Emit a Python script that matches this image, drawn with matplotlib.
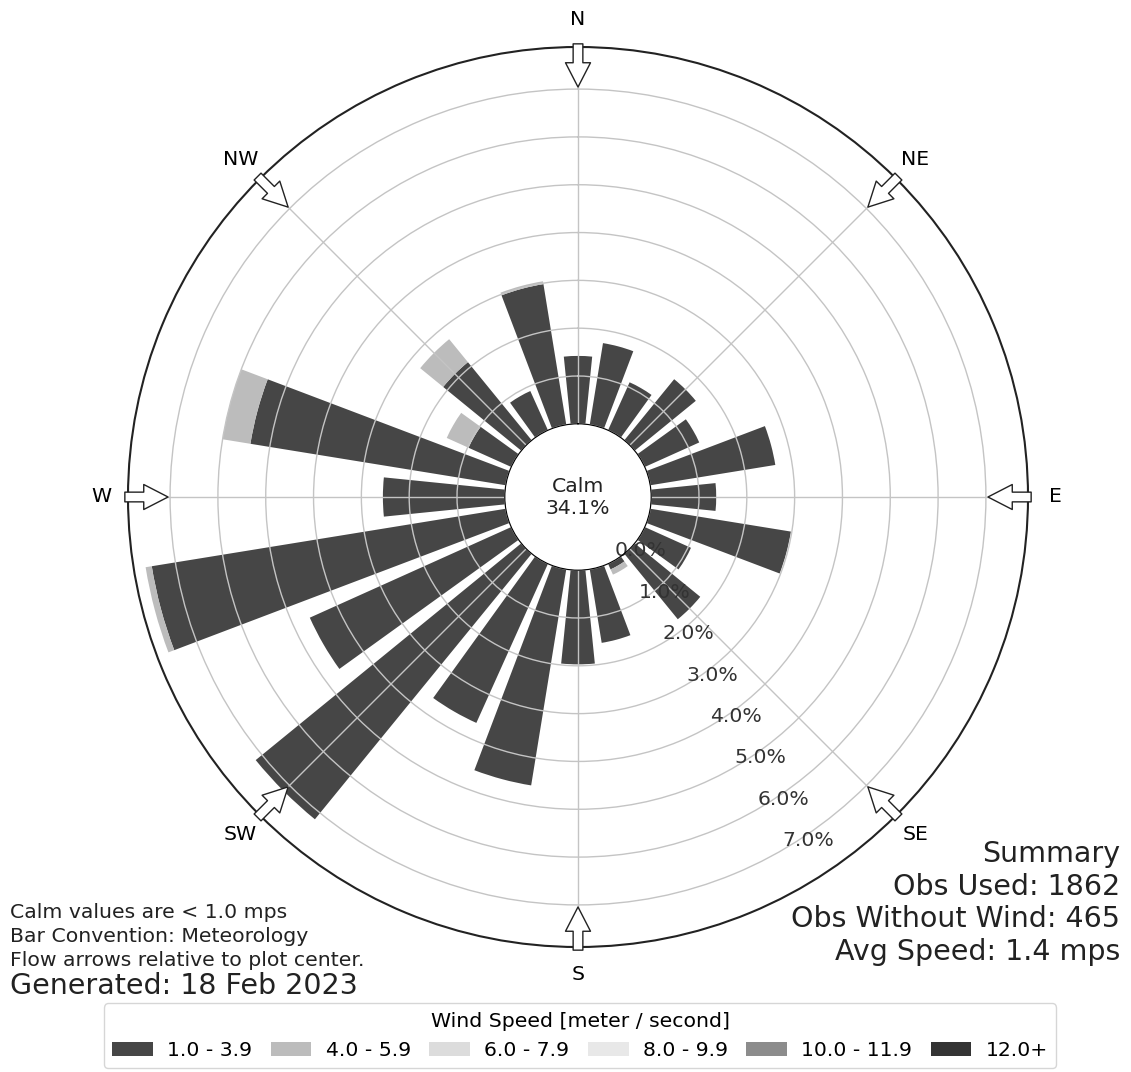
import numpy as np
import matplotlib
matplotlib.use("Agg")
import matplotlib.pyplot as plt

# Wind direction sectors (degrees, meteorological convention) and
# frequency (%) of observations per speed class.
directions = [0, 15, 30, 45, 60, 75, 90, 105, 120, 135, 150, 165,
              180, 195, 210, 225, 240, 255, 270, 285, 300, 315, 330, 345]
speed_labels = ["1.0 - 3.9", "4.0 - 5.9", "6.0 - 7.9", "8.0 - 9.9",
                "10.0 - 11.9", "12.0+"]
freq_1_4 = [1.42, 1.73, 1.10, 1.65, 1.25, 2.65, 1.36, 2.98, 1.06, 1.77, 0.13, 1.56,
            1.97, 4.58, 3.65, 7.17, 4.62, 7.50, 2.55, 5.41, 0.98, 2.11, 0.90, 2.98]
freq_4_6 = [0, 0, 0, 0, 0, 0, 0, 0, 0, 0, 0.12, 0,
            0, 0, 0, 0, 0, 0.13, 0, 0.59, 0.50, 0.62, 0, 0.06]
freq_6_8 = [0] * 24
freq_8_10 = [0] * 24
freq_10_12 = [0] * 24
freq_12_up = [0] * 24
speed_colors = ["#464646", "#bcbcbc", "#dcdcdc", "#e8e8e8", "#8c8c8c", "#343434"]

calm_pct = 34.1
ring_ticks = [0, 1, 2, 3, 4, 5, 6, 7]
compass_angles = [0, 45, 90, 135, 180, 225, 270, 315]
compass_labels = ["N", "NE", "E", "SE", "S", "SW", "W", "NW"]

rmax = 7.88
rorigin = -1.53
base_fs = 14.7
big_fs = 20.5

fig = plt.figure(figsize=(11.31, 10.72), dpi=100)
fig.patch.set_facecolor("white")
ax = fig.add_axes([128 / 1131, 125 / 1072, 900 / 1131, 900 / 1072], projection="polar")
ax.set_theta_zero_location("N")
ax.set_theta_direction(-1)
ax.set_rorigin(rorigin)
ax.set_ylim(0, rmax)

theta = np.deg2rad(directions)
width = np.deg2rad(15) * 0.77
bottom = np.zeros(len(directions))
series = [freq_1_4, freq_4_6, freq_6_8, freq_8_10, freq_10_12, freq_12_up]
handles = []
for vals, col, lab in zip(series, speed_colors, speed_labels):
    vals = np.asarray(vals, dtype=float)
    bc = ax.bar(theta, vals, width=width, bottom=bottom, color=col,
                linewidth=0, align="center", label=lab, zorder=1)
    handles.append(bc)
    bottom = bottom + vals

# grid and axes styling
ax.set_yticks(ring_ticks)
ax.set_yticklabels([f"{t:.1f}%" for t in ring_ticks], fontsize=base_fs, color="#333333")
ax.set_rlabel_position(150)
ax.set_thetagrids(compass_angles, compass_labels, fontsize=base_fs)
ax.tick_params(axis="x", pad=9)
ax.grid(True, color="#c4c4c4", linewidth=1.0)
ax.spines["polar"].set_color("#222222")
ax.spines["polar"].set_linewidth(1.5)
if "inner" in ax.spines:
    ax.spines["inner"].set_visible(False)

# flow arrows pointing toward the plot centre
span = rmax - rorigin
r_tail = rorigin + 1.007 * span
r_tip = rorigin + 0.911 * span
for ang in compass_angles:
    t = np.deg2rad(ang)
    ax.annotate("", xy=(t, r_tip), xytext=(t, r_tail),
                xycoords="data", textcoords="data", annotation_clip=False,
                arrowprops=dict(arrowstyle="simple,head_length=1.75,head_width=1.8,tail_width=0.7",
                                mutation_scale=10, fc="white", ec="#222222", lw=1.0,
                                shrinkA=0, shrinkB=0),
                zorder=5)

ax.text(0.5, 0.5, f"Calm\n{calm_pct:.1f}%", transform=ax.transAxes,
        ha="center", va="center", fontsize=base_fs, color="#222222", zorder=6)

fig.text(10 / 1131, 1 - 903 / 1072,
         "Calm values are < 1.0 mps\nBar Convention: Meteorology\nFlow arrows relative to plot center.",
         ha="left", va="top", fontsize=base_fs, color="#222222", linespacing=1.32)
fig.text(10 / 1131, 1 - 986 / 1072, "Generated: 18 Feb 2023",
         ha="left", va="center", fontsize=big_fs, color="#222222")
fig.text(1120 / 1131, 1 - 903 / 1072,
         "Summary\nObs Used: 1862\nObs Without Wind: 465\nAvg Speed: 1.4 mps",
         ha="right", va="center", multialignment="right", fontsize=big_fs, color="#222222")

ax.legend(handles, speed_labels, loc="lower center",
          bbox_to_anchor=(580 / 1131, 4 / 1072), bbox_transform=fig.transFigure,
          ncol=6, title="Wind Speed [meter / second]", fontsize=base_fs, title_fontsize=base_fs,
          columnspacing=0.9, borderaxespad=0, handletextpad=0.7)

fig.savefig("out.png", dpi=100, facecolor="white")
